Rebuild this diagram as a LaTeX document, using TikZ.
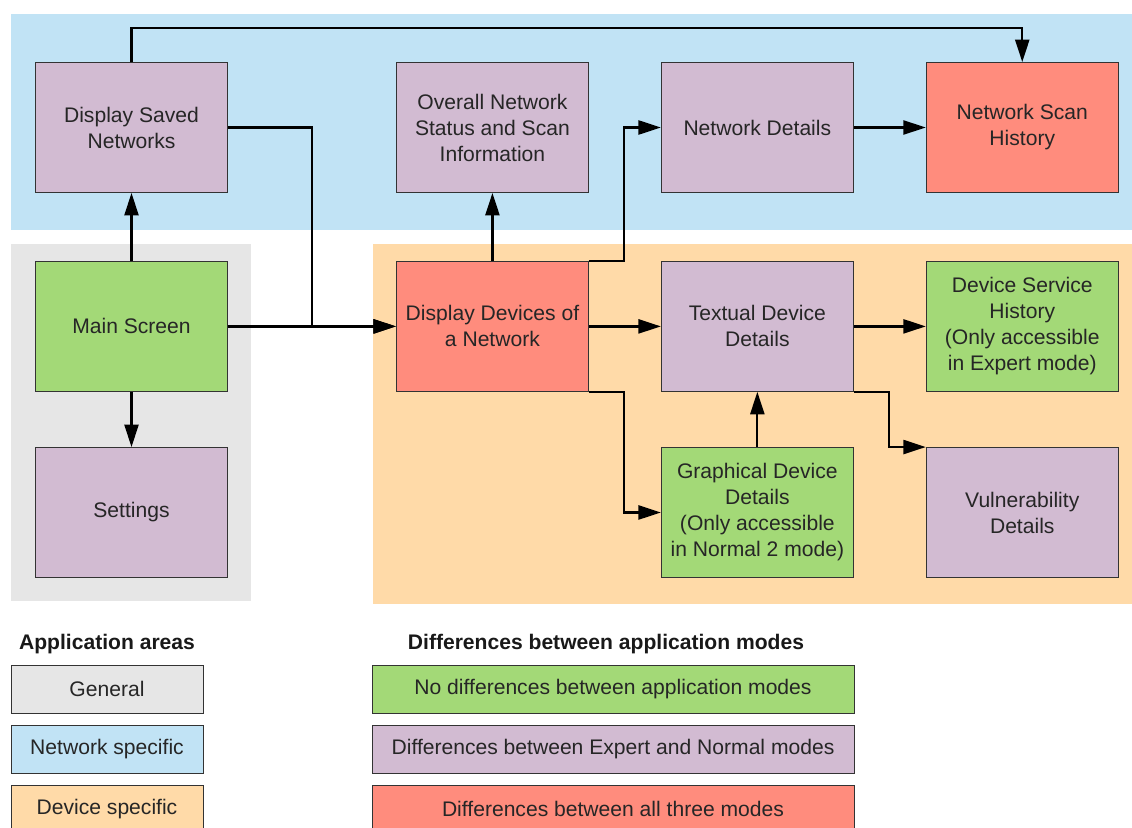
\documentclass[tikz,border=0pt]{standalone}
\usepackage{fontspec}
\setmainfont{Liberation Sans}
\usepackage{tikz}
\usetikzlibrary{arrows.meta,positioning}
\definecolor{areagrey}{RGB}{230,230,230}
\definecolor{netblue}{RGB}{193,227,245}
\definecolor{devorange}{RGB}{255,218,168}
\definecolor{modepurple}{RGB}{210,187,210}
\definecolor{modegreen}{RGB}{163,217,119}
\definecolor{modered}{RGB}{255,140,125}
\newcommand{\boxfont}{\fontsize{15pt}{18.5pt}\selectfont}

\begin{document}
\begin{tikzpicture}[
    x=0.025cm, y=-0.025cm,
    node distance=1.8cm,
    screen/.style={rectangle, draw=black!80, line width=0.6pt, minimum width=4.8cm, minimum height=3.25cm, align=center, inner sep=2pt, font=\boxfont, text=black!85},
    legend/.style={rectangle, draw=black!80, line width=0.6pt, minimum height=1.2cm, align=center, font=\boxfont, text=black!85},
    heading/.style={font=\boxfont\bfseries, text=black!90},
    arrow/.style={-{Triangle[length=16pt,width=10pt]}, line width=1.6pt}
]
    \useasboundingbox (0,0) rectangle (1132,828);

    % Application areas
    \fill[netblue] (11,14) rectangle (1132,230);
    \fill[areagrey] (11,244) rectangle (251,601);
    \fill[devorange] (373,244) rectangle (1132,604);

    % Network specific screens
    \node[screen, fill=modepurple] (saved) at (131.5,127.5) {Display Saved\\Networks};
    \node[screen, fill=modepurple, right=4.2cm of saved] (overall) {Overall Network\\Status and Scan\\Information};
    \node[screen, fill=modepurple, right=of overall] (netdet) {Network Details};
    \node[screen, fill=modered, right=of netdet] (scanhist) {Network Scan\\History};

    % General and device specific screens
    \node[screen, fill=modegreen, below=1.7cm of saved] (main) {Main Screen};
    \node[screen, fill=modered, below=1.7cm of overall] (devices) {Display Devices of\\a Network};
    \node[screen, fill=modepurple, below=1.7cm of netdet] (textual) {Textual Device\\Details};
    \node[screen, fill=modegreen, below=1.7cm of scanhist] (service) {Device Service\\History\\(Only accessible\\in Expert mode)};
    \node[screen, fill=modepurple, below=1.38cm of main] (settings) {Settings};
    \node[screen, fill=modegreen, below=1.38cm of textual] (graphical) {Graphical Device\\Details\\(Only accessible\\in Normal 2 mode)};
    \node[screen, fill=modepurple, below=1.38cm of service] (vuln) {Vulnerability\\Details};

    % Arrows
    \draw[arrow] (main) -- (saved);
    \draw[arrow] (main) -- (settings);
    \draw[arrow] (main) -- (devices);
    \draw[arrow] (saved.north) -- ++(0,0.85cm) -| (scanhist.north);
    \draw[arrow] (saved.east) -- ++(2.1cm,0) |- (devices.west);
    \draw[arrow] (devices) -- (overall);
    \draw[arrow] (devices.north east) -- ++(0.875cm,0) |- (netdet.west);
    \draw[arrow] (netdet) -- (scanhist);
    \draw[arrow] (devices) -- (textual);
    \draw[arrow] (devices.south east) -- ++(0.875cm,0) |- (graphical.west);
    \draw[arrow] (graphical) -- (textual);
    \draw[arrow] (textual) -- (service);
    \draw[arrow] (textual.south east) -- ++(0.875cm,0) |- (vuln.north west);

    % Legend
    \node[heading] (areahead) at (107,644) {Application areas};
    \node[legend, fill=areagrey, minimum width=4.8cm] (general) at (107,689) {General};
    \node[legend, fill=netblue, minimum width=4.8cm] (netspec) at (107,749) {Network specific};
    \node[legend, fill=devorange, minimum width=4.8cm] (devspec) at (107,809) {Device specific};
    \node[heading] (modehead) at (606,644) {Differences between application modes};
    \node[legend, fill=modegreen, minimum width=12.05cm] (nodiff) at (613,689) {No differences between application modes};
    \node[legend, fill=modepurple, minimum width=12.05cm] (expdiff) at (613,749) {Differences between Expert and Normal modes};
    \node[legend, fill=modered, minimum width=12.05cm] (alldiff) at (613,809) {Differences between all three modes};
\end{tikzpicture}
\end{document}
